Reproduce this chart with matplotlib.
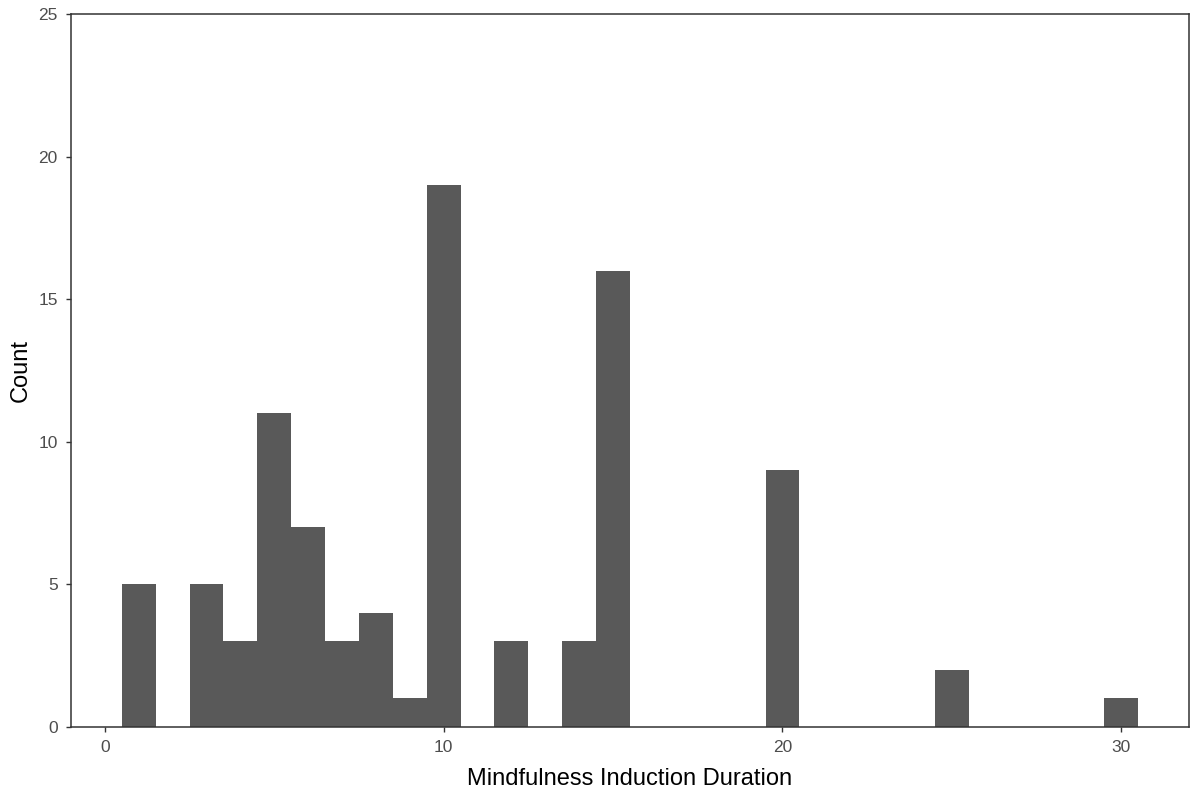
import numpy as np
import matplotlib.pyplot as plt

# Histogram of induction durations (bin width 1, centred on whole minutes)
durations = [1, 3, 4, 5, 6, 7, 8, 9, 10, 12, 14, 15, 20, 25, 30]
counts = [5, 5, 3, 11, 7, 3, 4, 1, 19, 3, 3, 16, 9, 2, 1]
x_ticks = [0, 10, 20, 30]
y_ticks = [0, 5, 10, 15, 20, 25]

plt.rcParams['font.family'] = ['Liberation Sans', 'DejaVu Sans']

fig = plt.figure(figsize=(11.92, 7.93), dpi=100)
ax = fig.add_axes([71 / 1192, 1 - 727 / 793, (1189 - 71) / 1192, (727 - 14) / 793])

bins = np.arange(0.5, 31.5, 1.0)
ax.hist(durations, bins=bins, weights=counts, color='#595959', edgecolor='none')

ax.set_xlim(-1, 32)
ax.set_ylim(0, 25)
ax.set_xticks(x_ticks)
ax.set_yticks(y_ticks)

for side in ax.spines.values():
    side.set_color('#333333')
    side.set_linewidth(1.1)

ax.tick_params(axis='both', colors='#333333', labelcolor='#4d4d4d', labelsize=12.5,
               length=3.6, width=1.0, pad=6)
ax.set_xlabel('Mindfulness Induction Duration', fontsize=17, color='black', labelpad=9)
ax.set_ylabel('Count', fontsize=17, color='black', labelpad=4.5)

fig.savefig('out.png', dpi=100, facecolor='white')
